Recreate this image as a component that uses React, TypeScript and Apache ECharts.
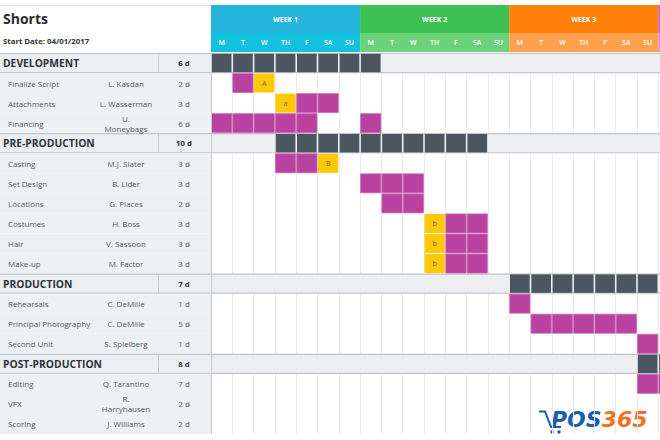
import React, { useEffect, useRef } from 'react';
import * as echarts from 'echarts';

const FONT = 'Open Sans';

const rowNames = ['DEVELOPMENT', 'Finalize Script', 'Attachments', 'Financing', 'PRE-PRODUCTION', 'Casting', 'Set Design', 'Locations', 'Costumes', 'Hair', 'Make-up', 'PRODUCTION', 'Rehearsals', 'Principal Photography', 'Second Unit', 'POST-PRODUCTION', 'Editing', 'VFX', 'Scoring'];
const rowIsSection = [1, 0, 0, 0, 1, 0, 0, 0, 0, 0, 0, 1, 0, 0, 0, 1, 0, 0, 0];
const rowOwners = ['', 'L. Kasdan', 'L. Wasserman', 'U.\nMoneybags', '', 'M.J. Slater', 'B. Lider', 'G. Places', 'H. Boss', 'V. Sassoon', 'M. Factor', '', 'C. DeMille', 'C. DeMille', 'S. Spielberg', '', 'Q. Tarantino', 'R.\nHarryhausen', 'J. Williams'];
const rowDurations = ['6 d', '2 d', '3 d', '6 d', '10 d', '3 d', '3 d', '2 d', '3 d', '3 d', '3 d', '7 d', '1 d', '5 d', '1 d', '8 d', '7 d', '2 d', '2 d'];

const weekLabels = ['WEEK 1', 'WEEK 2', 'WEEK 3', 'WEEK 4'];
const weekColors = ['#25b4db', '#3cc152', '#ff800a', '#c25fc0'];
const dayRowColors = ['#14c0e0', '#6bd27b', '#ffa04c', '#d58fd5'];
const dayLabels = ['M', 'T', 'W', 'TH', 'F', 'SA', 'SU'];

// [row, startDay, days]
const phaseSpans = [[0, 0, 8], [4, 3, 10], [11, 14, 7], [15, 20, 8]];
const taskSpans = [[1, 1, 1], [2, 4, 2], [3, 0, 5], [3, 7, 1], [5, 3, 2], [6, 7, 3], [7, 8, 2], [8, 11, 2], [9, 11, 2], [10, 11, 2], [12, 14, 1], [13, 15, 5], [14, 20, 1], [16, 20, 7]];
// [row, day, label]
const milestones: [number, number, string][] = [[1, 2, 'A'], [2, 3, 'a'], [5, 5, 'B'], [8, 10, 'b'], [9, 10, 'b'], [10, 10, 'b']];

const rowIds = rowNames.map((_, i) => String(i));

// build cells: [day, row, kind] kind 0 phase, 1 task, 2 milestone
const cells: number[][] = [];
const cellLabels: string[] = [];
phaseSpans.forEach(([r, s, n]) => { for (let d = s; d < s + n; d++) { cells.push([d, r, 0]); cellLabels.push(''); } });
taskSpans.forEach(([r, s, n]) => { for (let d = s; d < s + n; d++) { cells.push([d, r, 1]); cellLabels.push(''); } });
milestones.forEach(([r, d, l]) => { cells.push([d, r, 2]); cellLabels.push(l); });

const days: number[][] = [];
weekLabels.forEach((_, w) => dayLabels.forEach((_, k) => days.push([w * 7 + k, 0])));

const LEFT = 211;
const DAYW = 21.3;
const NDAYS = 22;

function buildOption(): any {
  return {
    animation: false,
    textStyle: { fontFamily: FONT },
    title: {
      left: 3, top: 11, padding: 0,
      text: 'Shorts',
      textStyle: { fontFamily: FONT, fontSize: 14, fontWeight: 'bold', color: '#2d2d2d' },
      subtext: 'Start Date: 04/01/2017',
      subtextStyle: { fontFamily: FONT, fontSize: 7.8, fontWeight: 'bold', color: '#333' },
      itemGap: 12,
    },
    grid: { left: LEFT, top: 53, width: DAYW * NDAYS, height: 381, containLabel: false, outerBoundsMode: 'none' },
    xAxis: {
      type: 'value', min: 0, max: NDAYS, interval: 1,
      axisLabel: { show: false }, axisLine: { show: false }, axisTick: { show: false },
      splitLine: { show: true, lineStyle: { color: '#ececec', width: 1 } },
    },
    yAxis: [
      {
        type: 'category', data: rowIds, inverse: true,
        axisLine: { show: true, lineStyle: { color: '#c5c9cd' } }, axisTick: { show: false },
        axisLabel: { show: false }, splitLine: { show: false }, z: 5,
      },
      {
        type: 'category', data: rowIds, inverse: true, position: 'left', offset: 208, z: 6,
        axisLine: { show: false }, axisTick: { show: false },
        axisLabel: {
          align: 'left', margin: 0, hideOverlap: false,
          formatter: (v: string) => { const i = Number(v); return rowIsSection[i] ? `{sec|${rowNames[i]}}` : `{task|${rowNames[i]}}`; },
          rich: {
            sec: { fontFamily: FONT, fontSize: 10.3, fontWeight: 'bold', color: '#2f3337' },
            task: { fontFamily: FONT, fontSize: 8, color: '#5a5a5a', padding: [0, 0, 0, 5] },
          },
        },
      },
      {
        type: 'category', data: rowIds, inverse: true, position: 'left', offset: 85, z: 6,
        axisLine: { show: false }, axisTick: { show: false },
        axisLabel: {
          align: 'center', margin: 0, fontFamily: FONT, fontSize: 8, color: '#5a5a5a', lineHeight: 10,
          formatter: (v: string) => rowOwners[Number(v)],
        },
      },
      {
        type: 'category', data: rowIds, inverse: true, position: 'left', offset: 27, z: 6,
        axisLine: { show: false }, axisTick: { show: false },
        axisLabel: {
          align: 'center', margin: 0,
          formatter: (v: string) => { const i = Number(v); return rowIsSection[i] ? `{sec|${rowDurations[i]}}` : `{task|${rowDurations[i]}}`; },
          rich: {
            sec: { fontFamily: FONT, fontSize: 7.8, fontWeight: 'bold', color: '#333' },
            task: { fontFamily: FONT, fontSize: 8, color: '#5a5a5a' },
          },
        },
      },
    ],
    series: [
      {
        type: 'custom', name: 'rows', z: 1, silent: true,
        data: rowIds.map((_, i) => [0, i]),
        renderItem: (params: any, api: any) => {
          const row = api.value(1);
          const c = api.coord([0, row]);
          const h = api.size([0, 1])[1];
          const top = c[1] - h / 2;
          const W = api.getWidth();
          if (rowIsSection[row]) {
            return {
              type: 'group', children: [
                { type: 'rect', shape: { x: 0, y: top, width: W, height: h }, style: { fill: '#eceef1' } },
                { type: 'line', shape: { x1: 0, y1: top + 0.5, x2: W, y2: top + 0.5 }, style: { stroke: '#c3c7cb', lineWidth: 1.2 } },
                { type: 'line', shape: { x1: 0, y1: top + h - 0.5, x2: W, y2: top + h - 0.5 }, style: { stroke: '#c3c7cb', lineWidth: 1.2 } },
                { type: 'line', shape: { x1: 158.5, y1: top, x2: 158.5, y2: top + h }, style: { stroke: '#c8ccd0', lineWidth: 1 } },
              ],
            };
          }
          return { type: 'rect', shape: { x: 0, y: top, width: c[0], height: h }, style: { fill: '#eef1f4' } };
        },
      },
      {
        type: 'custom', name: 'weeks', z: 2, silent: true,
        data: weekLabels.map((_, w) => [w * 7, 0]),
        renderItem: (params: any, api: any) => {
          const w = params.dataIndex;
          const s = api.value(0);
          const p0 = api.coord([s, 0]);
          const p1 = api.coord([s + 7, 0]);
          const h = api.size([0, 1])[1];
          const gTop = p0[1] - h / 2;
          const cx = (p0[0] + p1[0]) / 2;
          const children: any[] = [
            { type: 'rect', shape: { x: p0[0], y: gTop - 48, width: p1[0] - p0[0], height: 28 }, style: { fill: weekColors[w] } },
            { type: 'rect', shape: { x: p0[0], y: gTop - 20, width: p1[0] - p0[0], height: 19 }, style: { fill: dayRowColors[w] } },
          ];
          if (cx + 20 < api.getWidth()) {
            children.push({ type: 'text', style: { text: weekLabels[w], x: cx, y: gTop - 34, align: 'center', verticalAlign: 'middle', fill: '#fff', font: `bold 7px "${FONT}"` } });
          }
          return { type: 'group', children };
        },
      },
      {
        type: 'custom', name: 'days', z: 3, silent: true,
        data: days,
        renderItem: (params: any, api: any) => {
          const d = api.value(0);
          const p0 = api.coord([d, 0]);
          const p1 = api.coord([d + 1, 0]);
          const h = api.size([0, 1])[1];
          const gTop = p0[1] - h / 2;
          if (p1[0] > api.getWidth()) return null;
          return { type: 'text', style: { text: dayLabels[d % 7], x: (p0[0] + p1[0]) / 2, y: gTop - 10.5, align: 'center', verticalAlign: 'middle', fill: '#fff', font: `600 7px "${FONT}"` } };
        },
      },
      {
        type: 'custom', name: 'cells', z: 4, silent: true,
        data: cells,
        renderItem: (params: any, api: any) => {
          const d = api.value(0), r = api.value(1), k = api.value(2);
          const p0 = api.coord([d, r]);
          const p1 = api.coord([d + 1, r]);
          const h = api.size([0, 1])[1];
          const top = p0[1] - h / 2;
          const w = p1[0] - p0[0];
          if (k === 0) {
            return { type: 'rect', shape: { x: p0[0] + 0.8, y: top + 0.8, width: w - 1.6, height: h - 1.6 }, style: { fill: '#4b5661' } };
          }
          if (k === 1) {
            return { type: 'rect', shape: { x: p0[0] + 0.5, y: top + 0.5, width: w - 1, height: h - 1 }, style: { fill: '#b9419f', stroke: '#cc6cb8', lineWidth: 0.8 } };
          }
          return {
            type: 'group', children: [
              { type: 'rect', shape: { x: p0[0] + 0.5, y: top + 0.5, width: w - 1, height: h - 1 }, style: { fill: '#ffc90a' } },
              { type: 'text', style: { text: cellLabels[params.dataIndex], x: p0[0] + w / 2, y: p0[1], align: 'center', verticalAlign: 'middle', fill: '#6b6250', font: `7px "${FONT}"` } },
            ],
          };
        },
      },
    ],
    graphic: [
      { type: 'line', shape: { x1: 0, y1: 5.5, x2: 211, y2: 5.5 }, style: { stroke: '#e3e5e8', lineWidth: 1 } },
      { type: 'polyline', shape: { points: [[539, 411.5], [545, 411.5], [551, 427], [561, 427]] }, style: { stroke: '#1c5cb1', lineWidth: 2, fill: null } },
      { type: 'circle', shape: { cx: 552, cy: 432, r: 1.7 }, style: { fill: '#1c5cb1' } },
      { type: 'circle', shape: { cx: 559, cy: 432, r: 1.7 }, style: { fill: '#1c5cb1' } },
      {
        type: 'text',
        style: {
          x: 551, y: 419.5, verticalAlign: 'middle', align: 'left',
          text: '{p|POS}{n|365}',
          rich: {
            p: { fill: '#1c5cb1', font: 'italic bold 22px "DejaVu Sans"' },
            n: { fill: '#f36f21', font: 'italic bold 22px "DejaVu Sans"' },
          },
        },
      },
    ],
  };
}

export default function App() {
  const ref = useRef<HTMLDivElement>(null);
  useEffect(() => {
    document.body.style.margin = '0';
    const chart = echarts.init(ref.current!, null, { renderer: 'svg' });
    chart.setOption(buildOption());
    return () => chart.dispose();
  }, []);
  return <div ref={ref} style={{ width: 660, height: 440, position: 'absolute', left: 0, top: 0, background: '#fff' }} />;
}
